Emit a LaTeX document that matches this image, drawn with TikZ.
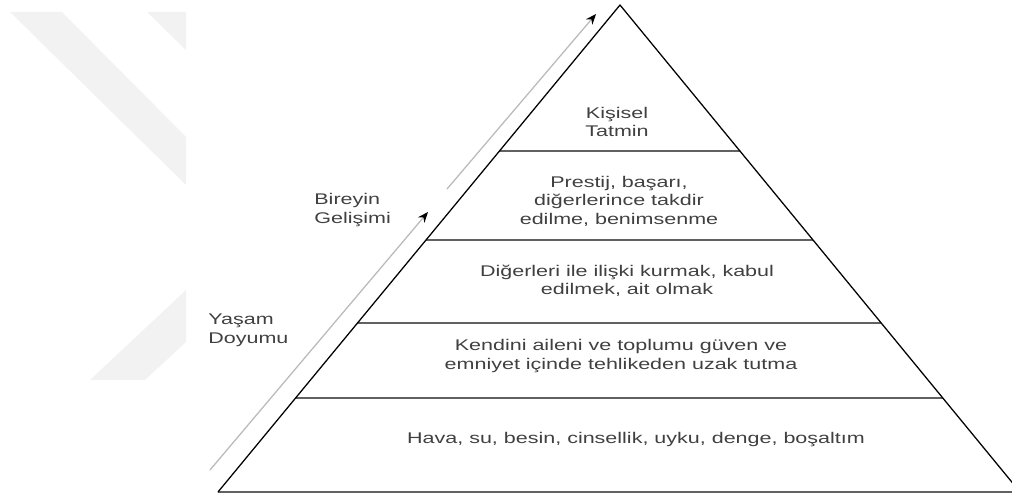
\documentclass[tikz,border=0pt]{standalone}
\usepackage{fontspec}
\setmainfont{Liberation Sans}
\usetikzlibrary{arrows.meta,calc}
\begin{document}
\begin{tikzpicture}[x=0.025cm, y=-0.025cm, line cap=round, line join=round, font=\fontsize{11}{13.2}\selectfont, >={Stealth[length=7.5pt,width=6pt,color=black]}]
	\tikzset{level text/.style={align=center, inner sep=0pt, text=black!75, xscale=1.39},
		side text/.style={align=left, inner sep=0pt, anchor=north west, text=black!75, xscale=1.39},
		level line/.style={line width=1.7pt, draw=black!62, line cap=butt},
		edge line/.style={line width=0.9pt, draw=black},
		growth arrow/.style={->, line width=0.9pt, draw=black!27}}
	\clip (0,0) rectangle (1012,497);
	\fill[black!5] (10,12) -- (62,12) -- (186,137) -- (186,185) -- cycle;
	\fill[black!5] (147,12) -- (186,12) -- (186,50) -- cycle;
	\fill[black!5] (186,290) -- (186,342) -- (145,380) -- (90,380) -- cycle;
	\coordinate (apex) at (620,5);
	\coordinate (bl) at (218,492);
	\coordinate (br) at (1020,492);
	\foreach \t in {0.300,0.483,0.653,0.807}
		\draw[level line] ($(apex)!\t!(bl)$) -- ($(apex)!\t!(br)$);
	\draw[level line] (bl) -- (br);
	\draw[edge line] (bl) -- (apex) -- (br);
	\node[level text] (tatmin) at (617,122) {Kişisel\\Tatmin};
	\node[level text] (saygi) at (619,201) {Prestij, başarı,\\diğerlerince takdir\\edilme, benimsenme};
	\node[level text] (ait) at (627,281) {Diğerleri ile ilişki kurmak, kabul\\edilmek, ait olmak};
	\node[level text] (guven) at (621,356) {Kendini aileni ve toplumu güven ve\\emniyet içinde tehlikeden uzak tutma};
	\node[level text] (fizyo) at (636,440) {Hava, su, besin, cinsellik, uyku, denge, boşaltım};
	\node[side text] (gelisim) at (314,193) {Bireyin\\Gelişimi};
	\node[side text] (doyum) at (208,314) {Yaşam\\Doyumu};
	\coordinate (d0) at (210,470);
	\coordinate (d1) at (428,212);
	\coordinate (g0) at (447,189);
	\coordinate (g1) at (596,14);
	\draw[growth arrow] (d0) -- (d1);
	\draw[growth arrow] (g0) -- (g1);
\end{tikzpicture}
\end{document}
